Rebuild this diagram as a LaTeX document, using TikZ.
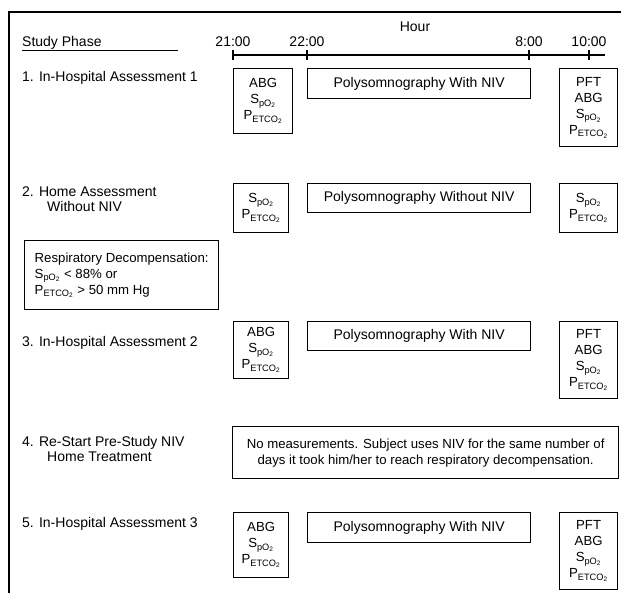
\documentclass[tikz,border=0pt]{standalone}
\usepackage{fontspec}
\setmainfont{Liberation Sans}
\usetikzlibrary{positioning}
\newcommand{\spo}{S\textsubscript{pO\textsubscript{2}}}
\newcommand{\petco}{P\textsubscript{ETCO\textsubscript{2}}}
\begin{document}
\begin{tikzpicture}[
    x=1pt, y=-1pt,
    every node/.style={font=\fontsize{14}{15}\selectfont, inner sep=0pt},
    phaselabel/.style={anchor=base west},
    phasetwo/.style={anchor=north west, align=left},
    timelabel/.style={anchor=base},
    measbox/.style={draw, line width=1.3pt, anchor=north west, align=center,
                    font=\fontsize{13.2}{16}\selectfont},
    psgbox/.style={measbox, minimum width=223pt, minimum height=30pt,
                   font=\fontsize{14}{15}\selectfont},
    frameline/.style={line width=1.8pt},
    axisline/.style={line width=1.4pt}
]
\useasboundingbox (0,0) rectangle (621,593);
\draw[frameline] (621,12) -- (9,12) -- (9,593);
\node[phaselabel] (phasehead) at (22,47) {Study Phase};
\draw[line width=1.1pt] (phasehead.south west) -- ++(156,0);
\node[timelabel] (hour) at (415,32) {Hour};
\node[timelabel] (t21) at (233,47) {21:00};
\node[timelabel] (t22) at (307,47) {22:00};
\node[timelabel] (t8) at (529,47) {8:00};
\node[timelabel] (t10) at (589,47) {10:00};
\coordinate (axisL) at (233,55);
\coordinate (axisR) at (605,55);
\draw[axisline] (axisL) -- (axisR);
\foreach \tx in {233,307,529,589}
  \draw[axisline] (\tx,50) -- (\tx,60);
\node[phaselabel] (ph1) at (22,82) {1. In-Hospital Assessment 1};
\node[measbox, minimum width=59pt, minimum height=65pt] (pre1) at (233,68) {ABG\\\spo\\\petco};
\node[psgbox] (psg1) at (307,68) {Polysomnography With NIV};
\node[measbox, minimum width=58pt, minimum height=78pt] (post1) at (559,68) {PFT\\ABG\\\spo\\\petco};
\node[phasetwo] (ph2) at (22,186.5) {2. Home Assessment\\\hspace*{25pt}Without NIV};
\node[measbox, minimum width=55pt, minimum height=49pt] (pre2) at (233,183) {\spo\\\petco};
\node[psgbox, minimum height=29pt] (psg2) at (307,183) {Polysomnography Without NIV};
\node[measbox, minimum width=58pt, minimum height=49pt] (post2) at (559,183) {\spo\\\petco};
\node[measbox, align=left, minimum width=194pt, minimum height=69pt] (decomp) at (24,240)
  {Respiratory Decompensation:\\\spo{} < 88\% or\\\petco{} > 50 mm Hg};
\node[phaselabel] (ph3) at (22,347) {3. In-Hospital Assessment 2};
\node[measbox, minimum width=55pt, minimum height=57pt] (pre3) at (233,321) {ABG\\\spo\\\petco};
\node[psgbox, minimum height=29pt] (psg3) at (307,321) {Polysomnography With NIV};
\node[measbox, minimum width=58pt, minimum height=77pt] (post3) at (559,321) {PFT\\ABG\\\spo\\\petco};
\node[phasetwo] (ph4) at (22,436) {4. Re-Start Pre-Study NIV\\\hspace*{25pt}Home Treatment};
\node[measbox, minimum width=386pt, minimum height=52pt] (home4) at (232,426)
  {No measurements. Subject uses NIV for the same number of\\days it took him/her to reach respiratory decompensation.};
\node[phaselabel] (ph5) at (22,527) {5. In-Hospital Assessment 3};
\node[measbox, minimum width=55pt, minimum height=65pt] (pre5) at (233,512) {ABG\\\spo\\\petco};
\node[psgbox] (psg5) at (307,512) {Polysomnography With NIV};
\node[measbox, minimum width=58pt, minimum height=77pt] (post5) at (559,512) {PFT\\ABG\\\spo\\\petco};
\end{tikzpicture}
\end{document}
